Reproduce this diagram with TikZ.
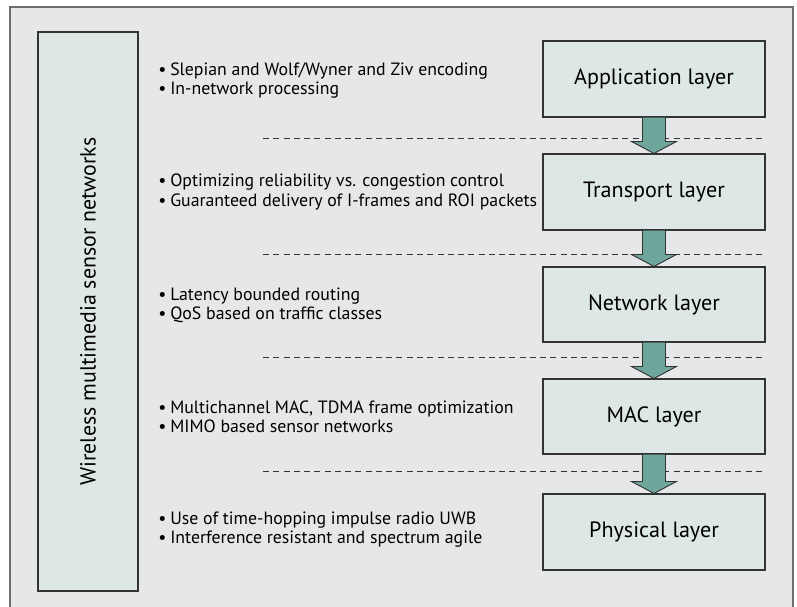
\documentclass[tikz,border=0pt]{standalone}
\usepackage{fontspec}
\setmainfont{PT Sans}
\usetikzlibrary{calc}
\definecolor{bgc}{HTML}{E6E7E8}
\definecolor{boxfill}{HTML}{DDE8E6}
\definecolor{arrowfill}{HTML}{6FA69C}
\definecolor{edgec}{HTML}{333333}
\definecolor{framec}{HTML}{6D6E70}
\newcommand{\bl}{\makebox[9pt][l]{\textbullet}}
\newcommand{\layerarrow}[2]{%
  \fill[arrowfill] ($(#1.south)+(-11.5,0)$) -- ($(#2.north)+(-11.5,-12)$) -- ($(#2.north)+(-22.5,-12)$) -- (#2.north) -- ($(#2.north)+(22.5,-12)$) -- ($(#2.north)+(11.5,-12)$) -- ($(#1.south)+(11.5,0)$) -- cycle;
  \draw[edgec, line width=0.7pt, line join=miter] ($(#1.south)+(-11.5,0)$) -- ($(#2.north)+(-11.5,-12)$) -- ($(#2.north)+(-22.5,-12)$) -- (#2.north) -- ($(#2.north)+(22.5,-12)$) -- ($(#2.north)+(11.5,-12)$) -- ($(#1.south)+(11.5,0)$);
}
\begin{document}
\begin{tikzpicture}[x=0.75pt,y=-0.75pt,
  layer/.style={draw=edgec, line width=0.8pt, fill=boxfill, minimum width=166.5pt, inner sep=0pt,
    font=\fontsize{16.6pt}{18pt}\selectfont},
  side/.style={draw=edgec, line width=0.8pt, fill=boxfill, minimum width=419.25pt, minimum height=75pt, inner sep=0pt, rotate=90,
    font=\fontsize{16.4pt}{18pt}\selectfont},
  bul/.style={anchor=west, inner sep=0pt, align=left, font=\fontsize{13.35pt}{14.3pt}\selectfont},
  sep/.style={draw=edgec, line width=0.7pt, dash pattern=on 4.5pt off 3.2pt}]
\useasboundingbox (0,0) rectangle (797,607);
\fill[white] (0,0) rectangle (797,607);
\draw[framec, fill=bgc, line width=0.9pt] (10,7) rectangle (793,610);

\node[side] (wmsn) at (88,311.5) {Wireless multimedia sensor networks};

\node[layer, minimum height=57pt] (app) at (654,79) {Application layer};
\node[layer, minimum height=57pt] (tra) at (654,192) {Transport layer};
\node[layer, minimum height=56.25pt] (net) at (654,304.5) {Network layer};
\node[layer, minimum height=56.25pt] (mac) at (654,416.5) {MAC layer};
\node[layer, minimum height=57pt] (phy) at (654,532) {Physical layer};

\draw[sep] (263,138) -- (766,138);
\draw[sep] (263,254) -- (766,254);
\draw[sep] (263,357) -- (766,357);
\draw[sep] (263,471) -- (766,471);

\layerarrow{app}{tra}
\layerarrow{tra}{net}
\layerarrow{net}{mac}
\layerarrow{mac}{phy}

\node[bul] (tapp) at (158,80.5) {\bl Slepian and Wolf/Wyner and Ziv encoding\\\bl In-network processing};
\node[bul] (ttra) at (158,192) {\bl Optimizing reliability vs. congestion control\\\bl Guaranteed delivery of I-frames and ROI packets};
\node[bul] (tnet) at (158,305.5) {\bl Latency bounded routing\\\bl QoS based on traffic classes};
\node[bul] (tmac) at (158,416.5) {\bl Multichannel MAC, TDMA frame optimization\\\bl MIMO based sensor networks};
\node[bul] (tphy) at (158,530) {\bl Use of time-hopping impulse radio UWB\\\bl Interference resistant and spectrum agile};
\end{tikzpicture}
\end{document}
